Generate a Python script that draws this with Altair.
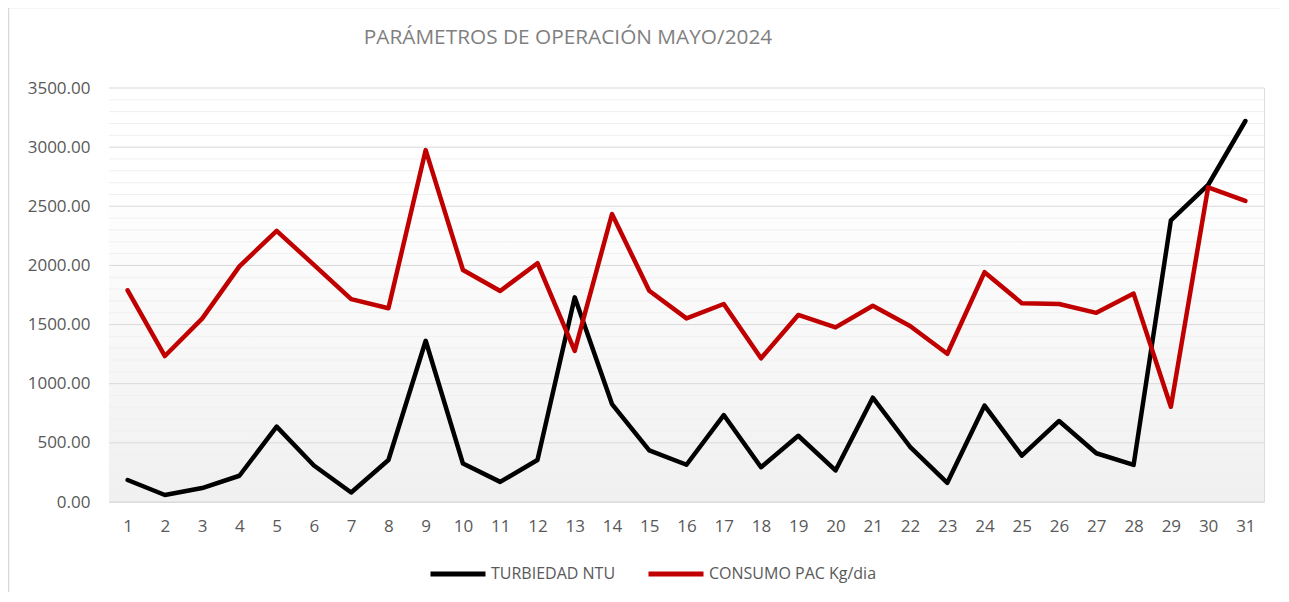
import altair as alt
import pandas as pd

days = list(range(1, 32))
turbiedad = [186, 59, 118, 222, 637, 309, 80, 355, 1363, 325, 170, 355, 1730, 828, 436,
             315, 735, 294, 560, 267, 882, 467, 162, 815, 392, 685, 412, 313, 2380, 2680, 3221]
consumo = [1790, 1234, 1550, 1992, 2292, 2005, 1715, 1638, 2975, 1961, 1784, 2019, 1278, 2435, 1786,
           1552, 1674, 1215, 1581, 1476, 1659, 1488, 1253, 1943, 1681, 1674, 1599, 1762, 805, 2660, 2545]
series_names = ["TURBIEDAD NTU", "CONSUMO PAC Kg/dia"]
series_colors = ["#000000", "#c00000"]
grid_values = list(range(0, 3501, 100))
label_values = list(range(0, 3501, 500))
title_text = "PARÁMETROS DE OPERACIÓN MAYO/2024"

rows = []
for d, v in zip(days, turbiedad):
    rows.append({"dia": d, "valor": v, "serie": series_names[0], "orden": 0})
for d, v in zip(days, consumo):
    rows.append({"dia": d, "valor": v, "serie": series_names[1], "orden": 1})
df = pd.DataFrame(rows)
grid_df = pd.DataFrame({"valor": grid_values, "major": [g % 500 == 0 for g in grid_values]})

W, H = 1155, 414
FONT = "Open Sans"
yscale = alt.Scale(domain=[0, 3500], nice=False)
yaxis = alt.Axis(title=None, values=label_values, format=".2f",
                 ticks=False, tickSize=0, domain=False, grid=False, labelPadding=19,
                 labelFontSize=17, labelColor="#595959", labelFont=FONT)

bg = alt.Chart(alt.Data(values=[{"k": 1}])).mark_rect(
    color=alt.Gradient(
        gradient="linear", x1=0, x2=0, y1=0, y2=1,
        stops=[alt.GradientStop(offset=0, color="#ffffff"),
               alt.GradientStop(offset=0.22, color="#ffffff"),
               alt.GradientStop(offset=1, color="#f0f0f0")],
    )
).encode(x=alt.value(0), x2=alt.value(W), y=alt.value(0), y2=alt.value(H))

border_top = alt.Chart(alt.Data(values=[{"k": 1}])).mark_rule(
    stroke="#d9d9d9", strokeWidth=1.5
).encode(x=alt.value(-100.5), x2=alt.value(1400), y=alt.value(-80.5))
border_left = alt.Chart(alt.Data(values=[{"k": 1}])).mark_rule(
    stroke="#d9d9d9", strokeWidth=1.5
).encode(x=alt.value(-100.5), y=alt.value(-80.5), y2=alt.value(700))

grid = alt.Chart(grid_df).mark_rule(strokeWidth=1).encode(
    y=alt.Y("valor:Q", scale=yscale, axis=yaxis),
    color=alt.condition("datum.major", alt.value("#d9d9d9"), alt.value("#f0f0f0")),
)

lines = alt.Chart(df).mark_line(strokeWidth=4.5, strokeCap="round", strokeJoin="round").encode(
    x=alt.X("dia:O", scale=alt.Scale(padding=0.5),
            axis=alt.Axis(title=None, labelAngle=0, ticks=False, domain=False,
                          labelPadding=16, labelFontSize=17, labelColor="#595959", labelFont=FONT,
                          grid=False)),
    y=alt.Y("valor:Q", scale=yscale, axis=yaxis),
    color=alt.Color("serie:N",
                    scale=alt.Scale(domain=series_names, range=series_colors),
                    legend=alt.Legend(title=None, orient="none", legendX=319, legendY=456,
                                      direction="horizontal", symbolType="stroke",
                                      symbolSize=3025, symbolStrokeWidth=5, labelFontSize=16,
                                      labelColor="#595959", labelFont=FONT, columnPadding=22,
                                      labelOffset=3, padding=0, labelLimit=400)),
    order=alt.Order("orden:Q"),
    detail="serie:N",
)

title = alt.Chart(alt.Data(values=[{"t": title_text}])).mark_text(
    font=FONT, fontSize=20.8, color="#7f7f7f", align="center", baseline="alphabetic"
).encode(text="t:N", x=alt.value(459), y=alt.value(-44))

chart = alt.layer(border_top, border_left, bg, grid, lines, title).properties(
    width=W, height=H,
    autosize=alt.AutoSizeParams(type="none"),
    padding={"left": 101, "top": 80, "right": 17, "bottom": 90},
).configure_view(stroke=None).configure(background="white")

chart.save("out.html", embed_options={"renderer": "svg", "actions": False})
